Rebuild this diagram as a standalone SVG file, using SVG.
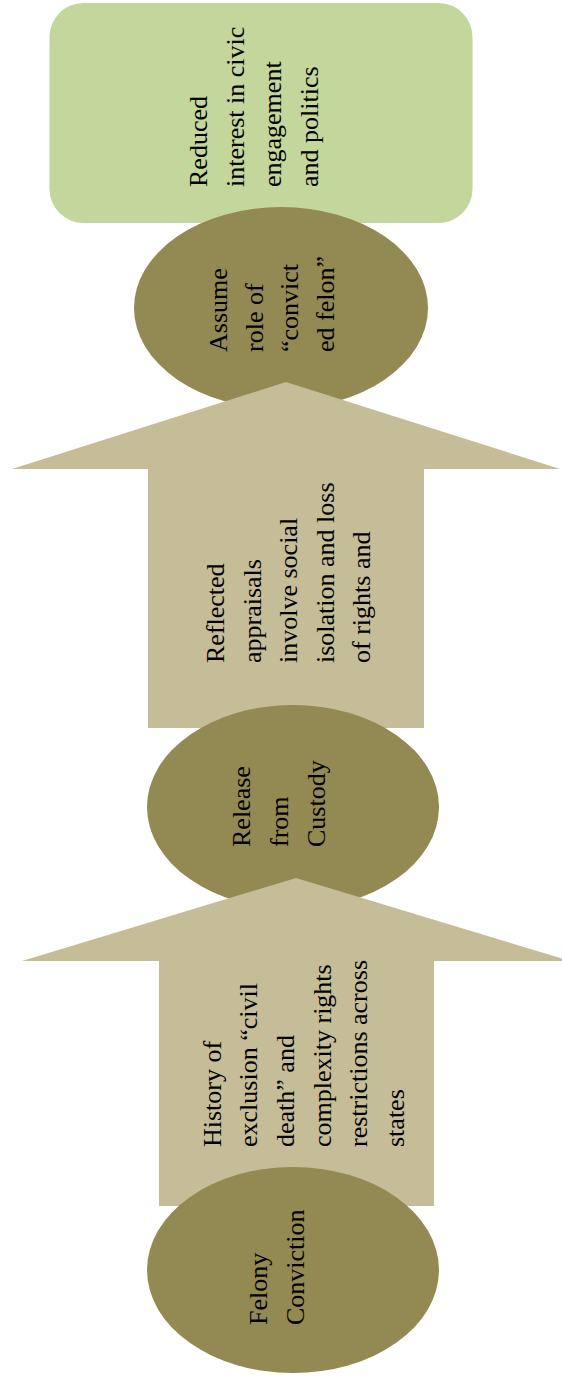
<svg xmlns="http://www.w3.org/2000/svg" width="562" height="1381" viewBox="0 0 562 1381">
<style>
.t{font-family:"Liberation Serif","Times New Roman",serif;font-size:26px;fill:#000}
.oval{fill:#938953}
.arr{fill:#C4BD97}
.box{fill:#C3D69B}
</style>
<rect width="562" height="1381" fill="#fff"/>
<g id="reduced-interest">
<rect class="box" x="49.5" y="3" width="423" height="220" rx="34" ry="34"/>
<text class="t" transform="translate(207,187) rotate(-90)"><tspan x="0" y="0">Reduced</tspan><tspan x="0" dy="37">interest in civic</tspan><tspan x="0" dy="37">engagement</tspan><tspan x="0" dy="37">and politics</tspan></text>
</g>
<g id="assume-role">
<ellipse class="oval" cx="281" cy="308" rx="147" ry="101"/>
<text class="t" transform="translate(227,352) rotate(-90)"><tspan x="0" y="0">Assume</tspan><tspan x="0" dy="35.5">role of</tspan><tspan x="0" dy="35.5">“convict</tspan><tspan x="0" dy="35.5">ed felon”</tspan></text>
</g>
<g id="reflected-appraisals">
<polygon class="arr" points="286,382 560,469 424,469 424,728 148,728 148,469 12,469"/>
<text class="t" transform="translate(224,663) rotate(-90)"><tspan x="0" y="0">Reflected</tspan><tspan x="0" dy="36.5">appraisals</tspan><tspan x="0" dy="36.5">involve social</tspan><tspan x="0" dy="36.5">isolation and loss</tspan><tspan x="0" dy="36.5">of rights and</tspan></text>
</g>
<g id="release-from-custody">
<ellipse class="oval" cx="293" cy="807" rx="146" ry="102"/>
<text class="t" transform="translate(250,847) rotate(-90)"><tspan x="0" y="0">Release</tspan><tspan x="0" dy="37.5">from</tspan><tspan x="0" dy="37.5">Custody</tspan></text>
</g>
<g id="history-of-exclusion">
<polygon class="arr" points="296,878 570,961 434,961 434,1206 159,1206 159,961 22,961"/>
<text class="t" transform="translate(220.5,1147) rotate(-90)"><tspan x="0" y="0">History of</tspan><tspan x="0" dy="36.7">exclusion “civil</tspan><tspan x="0" dy="36.7">death” and</tspan><tspan x="0" dy="36.7">complexity rights</tspan><tspan x="0" dy="36.7">restrictions across</tspan><tspan x="0" dy="36.7">states</tspan></text>
</g>
<g id="felony-conviction">
<ellipse class="oval" cx="293" cy="1270" rx="146" ry="103"/>
<text class="t" transform="translate(267,1325) rotate(-90)"><tspan x="0" y="0">Felony</tspan><tspan x="0" dy="36.5">Conviction</tspan></text>
</g>
<g id="connectors"/>
</svg>
